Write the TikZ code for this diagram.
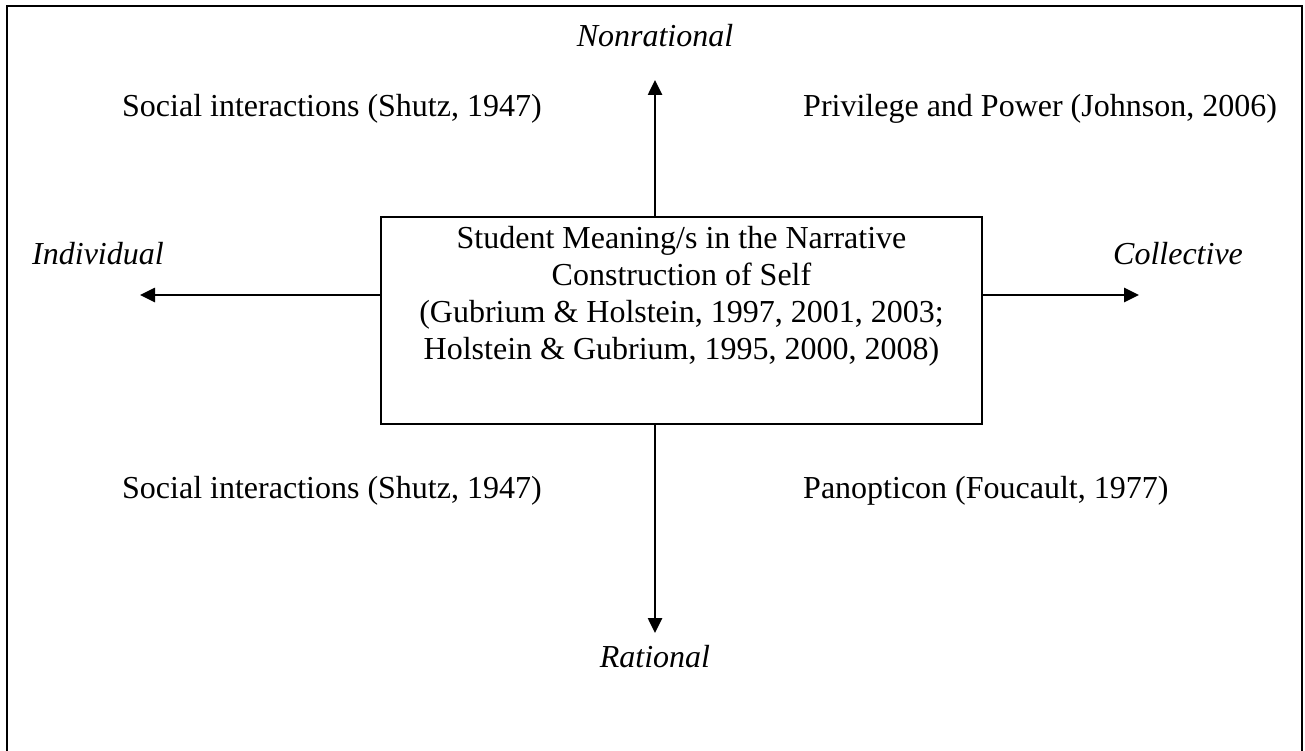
\documentclass[tikz,border=0pt]{standalone}
\usepackage{fontspec}
\setmainfont{Liberation Serif}
\usetikzlibrary{arrows.meta, positioning}

\begin{document}
\begin{tikzpicture}[x=1pt, y=-1pt, >={Triangle[length=15pt, width=14pt]},
    txt/.style={font=\fontsize{32}{37}\selectfont, inner sep=0pt},
    axis/.style={font=\fontsize{32}{37}\selectfont\itshape, inner sep=0pt},
    arr/.style={->, line width=2.6pt}]

\useasboundingbox (0,0) rectangle (1305,751);

% === Marco exterior ===
\draw[line width=2pt] (7,751) -- (7,6) -- (1302,6) -- (1302,751);

% === Caja central ===
\node[draw, line width=2pt, minimum width=601pt, minimum height=207pt, inner sep=0pt] (self) at (681.5,320.5) {};
\node[txt, anchor=north, align=center] (selftext) at ([yshift=-10pt]self.north) {Student Meaning/s in the Narrative\\
    Construction of Self\\
    (Gubrium \& Holstein, 1997, 2001, 2003;\\
    Holstein \& Gubrium, 1995, 2000, 2008)};

% Extremos de los ejes
\coordinate (top) at (655,80);
\coordinate (bottom) at (655,633);
\coordinate (left) at (140,295);
\coordinate (right) at (1139,295);

% === Ejes ===
\draw[arr] (self.north -| top) -- (top);
\draw[arr] (self.south -| bottom) -- (bottom);
\draw[arr] (self.west |- left) -- (left);
\draw[arr] (self.east |- right) -- (right);

% Etiquetas de los ejes
\node[axis, anchor=base] (nonrational) at (655,47) {Nonrational};
\node[axis, anchor=base] (rational) at (655,667) {Rational};
\node[axis, anchor=base] (individual) at (98,265) {Individual};
\node[axis, anchor=base] (collective) at (1178,265) {Collective};

% === Cuadrantes ===
\node[txt, anchor=base west] (q1) at (122,117) {Social interactions (Shutz, 1947)};
\node[txt, anchor=base west] (q2) at (803,117) {Privilege and Power (Johnson, 2006)};
\node[txt, anchor=base west] (q3) at (122,498) {Social interactions (Shutz, 1947)};
\node[txt, anchor=base west] (q4) at (803,498) {Panopticon (Foucault, 1977)};

\end{tikzpicture}
\end{document}
